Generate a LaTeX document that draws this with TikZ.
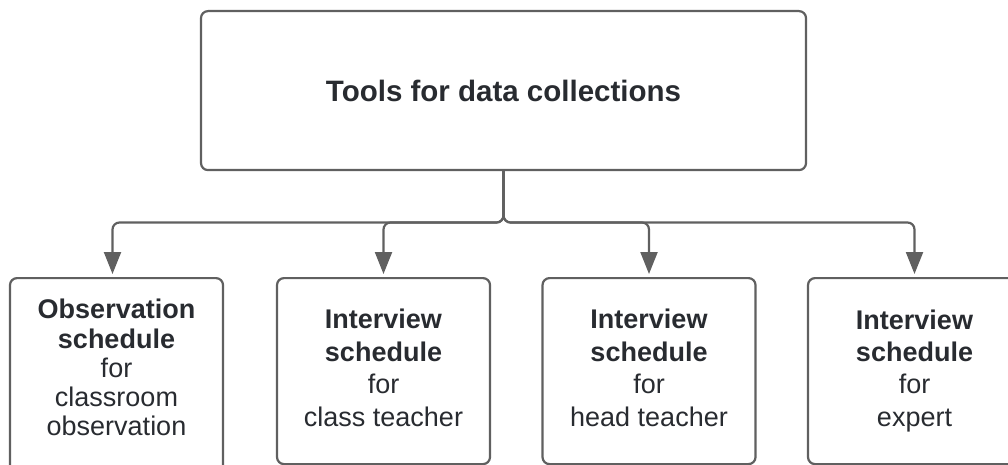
\documentclass[tikz,border=0pt]{standalone}
\usepackage{fontspec}
\setmainfont{Liberation Sans}
\usetikzlibrary{arrows.meta}
\definecolor{ink}{HTML}{282B30}
\definecolor{edge}{HTML}{606060}
\begin{document}
\begin{tikzpicture}[x=1pt,y=-1pt,
  box/.style={draw=edge, line width=2.2pt, rounded corners=7pt,
    minimum width=213pt, minimum height=186pt, anchor=north, inner sep=0pt},
  head/.style={box, minimum width=605pt, minimum height=159pt,
    font=\bfseries\fontsize{29.5}{35}\selectfont, text=ink},
  txt/.style={align=center, text=ink, inner sep=0pt,
    font=\fontsize{27}{32.4}\selectfont},
  conn/.style={draw=edge, line width=2.2pt, rounded corners=7pt,
    -{Triangle[length=22pt,width=17pt]}, shorten >=3pt}]
\useasboundingbox (0,0) rectangle (1008,465);
\clip (0,0) rectangle (1008,465);

% root box
\node[head] (top) at (503.5,10) {Tools for data collections};

% leaf boxes
\node[box, minimum height=205pt] (b1) at (116.5,277) {};
\node[box] (b2) at (383.5,277) {};
\node[box] (b3) at (649,277) {};
\node[box] (b4) at (914.5,277) {};

% leaf texts
\node[txt, font=\fontsize{27}{29.25}\selectfont] (t1) at ([yshift=13pt]b1.center)
  {\textbf{Observation}\\\textbf{schedule}\\for\\classroom\\observation};
\node[txt] (t2) at ([yshift=3.2pt]b2.center)
  {\textbf{Interview}\\\textbf{schedule}\\for\\class teacher};
\node[txt] (t3) at ([yshift=3.2pt]b3.center)
  {\textbf{Interview}\\\textbf{schedule}\\for\\head teacher};
\node[txt] (t4) at ([yshift=0.4pt]b4.center)
  {\textbf{Interview}\\\textbf{schedule}\\for\\expert};

% connectors from the root down the shared bus to each leaf
\coordinate (bus) at (0,222.5);
\draw[conn] (top.south) -- (top.south |- bus) -| ([xshift=-4pt]b1.north);
\foreach \b in {b2,b3,b4}
  \draw[conn] (top.south) -- (top.south |- bus) -| (\b.north);
\end{tikzpicture}
\end{document}
